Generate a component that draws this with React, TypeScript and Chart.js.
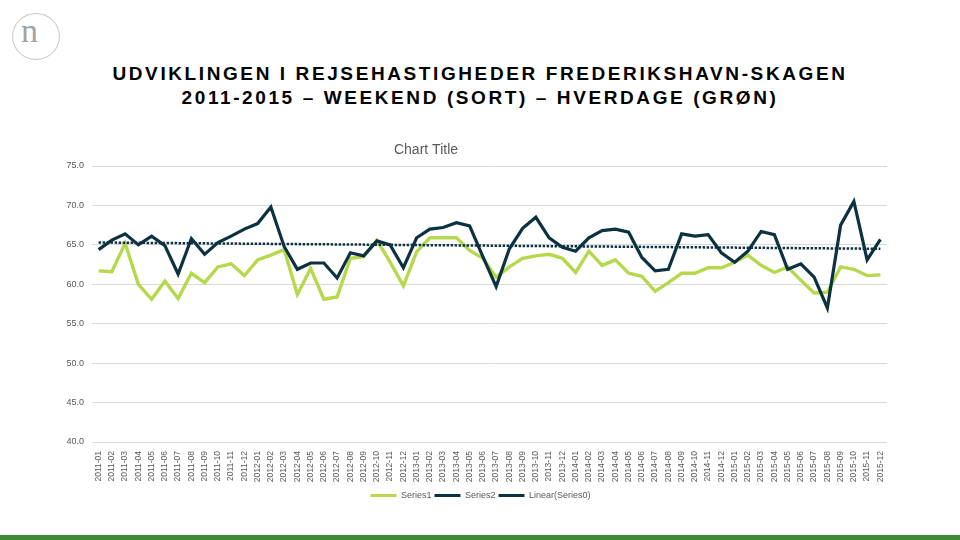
import React, { useEffect, useRef } from "react";
import { Chart, registerables } from "chart.js";

Chart.register(...registerables);

const headerLine1 = "UDVIKLINGEN I REJSEHASTIGHEDER FREDERIKSHAVN-SKAGEN";
const headerLine2 = "2011-2015 – WEEKEND (SORT) – HVERDAGE (GRØN)";
const chartTitle = "Chart Title";

const months = [
  "2011-01", "2011-02", "2011-03", "2011-04", "2011-05", "2011-06", "2011-07", "2011-08", "2011-09", "2011-10", "2011-11", "2011-12",
  "2012-01", "2012-02", "2012-03", "2012-04", "2012-05", "2012-06", "2012-07", "2012-08", "2012-09", "2012-10", "2012-11", "2012-12",
  "2013-01", "2013-02", "2013-03", "2013-04", "2013-05", "2013-06", "2013-07", "2013-08", "2013-09", "2013-10", "2013-11", "2013-12",
  "2014-01", "2014-02", "2014-03", "2014-04", "2014-05", "2014-06", "2014-07", "2014-08", "2014-09", "2014-10", "2014-11", "2014-12",
  "2015-01", "2015-02", "2015-03", "2015-04", "2015-05", "2015-06", "2015-07", "2015-08", "2015-09", "2015-10", "2015-11", "2015-12",
];

// Series1 – hverdage (green)
const series1 = [
  61.7, 61.6, 65.2, 60.0, 58.1, 60.4, 58.2, 61.4, 60.2, 62.2, 62.6, 61.1,
  63.1, 63.7, 64.4, 58.7, 62.0, 58.1, 58.4, 63.3, 63.5, 65.6, 62.8, 59.8,
  64.1, 65.9, 65.9, 65.9, 64.3, 63.3, 60.9, 62.2, 63.3, 63.6, 63.8, 63.3,
  61.5, 64.2, 62.4, 63.1, 61.4, 61.0, 59.1, 60.2, 61.4, 61.4, 62.1, 62.1,
  62.8, 63.7, 62.4, 61.5, 62.2, 60.5, 58.9, 59.0, 62.2, 61.9, 61.1, 61.2,
];

// Series2 – weekend (dark)
const series2 = [
  64.4, 65.6, 66.4, 65.0, 66.1, 64.9, 61.3, 65.8, 63.8, 65.3, 66.1, 67.0,
  67.7, 69.8, 64.8, 61.9, 62.7, 62.7, 60.8, 64.0, 63.6, 65.5, 65.0, 62.1,
  65.9, 67.0, 67.2, 67.8, 67.4, 63.5, 59.7, 64.5, 67.1, 68.5, 65.9, 64.7,
  64.2, 65.9, 66.8, 67.0, 66.6, 63.4, 61.7, 61.9, 66.4, 66.1, 66.3, 64.0,
  62.8, 64.2, 66.7, 66.3, 61.9, 62.6, 60.9, 57.0, 67.5, 70.5, 63.1, 65.7,
];

// Linear trend of the weekend series: value at first and last month
const trendStart = 65.3;
const trendEnd = 64.5;

const yMin = 40;
const yMax = 75;
const yStep = 5;

const seriesNames = ["Series1", "Series2", "Linear(Series0)"];

const GREEN = "#b5d84c";
const DARK = "#0c3242";
const GRAY_TEXT = "#595959";
const FONT = "'Liberation Sans', Arial, sans-serif";

const titlePlugin = {
  id: "excelTitle",
  afterLayout(chart: any) {
    const lg = chart.legend;
    if (lg) {
      lg.left += 11;
      lg.right += 11;
    }
  },
  afterDraw(chart: any) {
    const ctx = chart.ctx;
    ctx.save();
    ctx.font = `14px ${FONT}`;
    ctx.fillStyle = GRAY_TEXT;
    ctx.textAlign = "center";
    ctx.textBaseline = "middle";
    ctx.fillText(chartTitle, 426, 150);
    ctx.restore();
  },
};

export default function App() {
  const canvasRef = useRef<HTMLCanvasElement | null>(null);

  useEffect(() => {
    if (!canvasRef.current) return;
    const trend = months.map((_, i) =>
      i === 0 ? trendStart : i === months.length - 1 ? trendEnd : null
    );
    const defaultGen = Chart.defaults.plugins.legend.labels.generateLabels;
    const chart = new Chart(canvasRef.current, {
      type: "line",
      data: {
        labels: months,
        datasets: [
          {
            label: seriesNames[0],
            data: series1,
            borderColor: GREEN,
            backgroundColor: GREEN,
            borderWidth: 3.4,
            pointRadius: 0,
            tension: 0,
            order: 3,
          },
          {
            label: seriesNames[1],
            data: series2,
            borderColor: DARK,
            backgroundColor: DARK,
            borderWidth: 3.2,
            pointRadius: 0,
            tension: 0,
            order: 2,
          },
          {
            label: seriesNames[2],
            data: trend,
            borderColor: DARK,
            backgroundColor: DARK,
            borderWidth: 2.5,
            borderDash: [2.5, 1.5],
            pointRadius: 0,
            spanGaps: true,
            order: 1,
          },
        ],
      },
      options: {
        animation: false,
        responsive: false,
        maintainAspectRatio: false,
        layout: { padding: { left: 52, right: 73, top: 166, bottom: 30 } },
        scales: {
          x: {
            type: "category",
            offset: true,
            grid: { display: false },
            border: { display: false },
            ticks: {
              autoSkip: false,
              maxRotation: 90,
              minRotation: 90,
              padding: 1,
              color: GRAY_TEXT,
              font: { family: FONT, size: 8.5 },
            },
            afterFit: (scale: any) => {
              scale.height = 46;
            },
          },
          y: {
            min: yMin,
            max: yMax,
            grid: { color: "#d9d9d9", lineWidth: 1, drawTicks: false },
            border: { display: false },
            ticks: {
              stepSize: yStep,
              padding: 8,
              color: GRAY_TEXT,
              font: { family: FONT, size: 9 },
              callback: (v: any) => Number(v).toFixed(1),
            },
            afterFit: (scale: any) => {
              scale.width = 40;
            },
          },
        },
        plugins: {
          title: { display: false },
          tooltip: { enabled: false },
          legend: {
            display: true,
            position: "bottom",
            labels: {
              boxWidth: 26,
              boxHeight: 3,
              padding: 3,
              color: GRAY_TEXT,
              font: { family: FONT, size: 9 },
              generateLabels: (c: any) =>
                defaultGen(c).map((it: any) => ({
                  ...it,
                  lineWidth: 0,
                  lineDash: [],
                  fillStyle: it.strokeStyle,
                })),
              sort: (a: any, b: any) => a.datasetIndex - b.datasetIndex,
            },
          },
        },
      },
      plugins: [titlePlugin],
    });
    return () => chart.destroy();
  }, []);

  return (
    <div
      style={{
        position: "fixed",
        left: 0,
        top: 0,
        width: 960,
        height: 540,
        background: "#ffffff",
        overflow: "hidden",
        fontFamily: FONT,
      }}
    >
      <div
        style={{
          position: "absolute",
          left: 12,
          top: 13,
          width: 48,
          height: 47,
          borderRadius: "50%",
          border: "1.5px solid #c8c8c8",
          boxSizing: "border-box",
        }}
      />
      <div
        style={{
          position: "absolute",
          left: 21,
          top: 11,
          color: "#a3a3a3",
          fontFamily: "'Liberation Serif', 'DejaVu Serif', serif",
          fontSize: 34,
          lineHeight: "40px",
        }}
      >
        n
      </div>
      <div
        style={{
          position: "absolute",
          left: 0,
          top: 62,
          width: 960,
          textAlign: "center",
          fontWeight: "bold",
          fontSize: 19,
          letterSpacing: 2.6,
          lineHeight: "24px",
          color: "#000",
        }}
      >
        <div>{headerLine1}</div>
        <div>{headerLine2}</div>
      </div>
      <canvas
        ref={canvasRef}
        width={960}
        height={540}
        style={{ position: "absolute", left: 0, top: 0, width: 960, height: 540 }}
      />
      <div
        style={{
          position: "absolute",
          left: 0,
          top: 535,
          width: 960,
          height: 5,
          background: "#3f8a37",
        }}
      />
    </div>
  );
}
